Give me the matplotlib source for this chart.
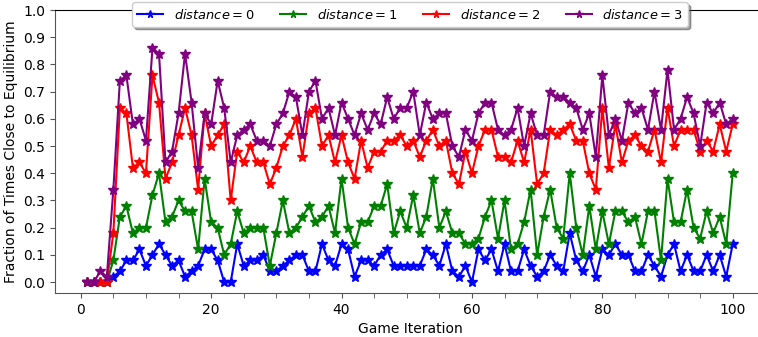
import matplotlib
matplotlib.use("Agg")
import matplotlib.pyplot as plt
from matplotlib.ticker import MultipleLocator

iterations = list(range(1, 101))

dist0 = [0.00, 0.00, 0.00, 0.00, 0.02, 0.04, 0.08, 0.08, 0.12, 0.06,
         0.10, 0.14, 0.10, 0.06, 0.08, 0.02, 0.04, 0.06, 0.12, 0.12,
         0.08, 0.00, 0.00, 0.14, 0.06, 0.08, 0.08, 0.10, 0.04, 0.04,
         0.06, 0.08, 0.10, 0.10, 0.04, 0.04, 0.14, 0.08, 0.06, 0.14,
         0.12, 0.02, 0.08, 0.08, 0.06, 0.10, 0.12, 0.06, 0.06, 0.06,
         0.06, 0.06, 0.12, 0.10, 0.06, 0.14, 0.04, 0.02, 0.06, 0.00,
         0.12, 0.08, 0.12, 0.04, 0.14, 0.04, 0.04, 0.12, 0.06, 0.02,
         0.04, 0.10, 0.06, 0.04, 0.18, 0.08, 0.04, 0.10, 0.02, 0.12,
         0.10, 0.14, 0.10, 0.10, 0.04, 0.04, 0.10, 0.06, 0.02, 0.10,
         0.14, 0.04, 0.10, 0.04, 0.04, 0.10, 0.04, 0.10, 0.02, 0.14]

dist1 = [0.00, 0.00, 0.00, 0.00, 0.08, 0.24, 0.28, 0.18, 0.20, 0.20,
         0.32, 0.40, 0.22, 0.24, 0.30, 0.26, 0.26, 0.12, 0.38, 0.22,
         0.20, 0.10, 0.14, 0.26, 0.18, 0.20, 0.20, 0.20, 0.06, 0.18,
         0.30, 0.18, 0.20, 0.24, 0.28, 0.22, 0.24, 0.28, 0.18, 0.38,
         0.20, 0.14, 0.22, 0.22, 0.28, 0.28, 0.36, 0.18, 0.26, 0.20,
         0.32, 0.18, 0.24, 0.38, 0.20, 0.26, 0.18, 0.18, 0.14, 0.14,
         0.16, 0.24, 0.30, 0.16, 0.30, 0.12, 0.14, 0.22, 0.34, 0.10,
         0.24, 0.34, 0.20, 0.16, 0.40, 0.20, 0.10, 0.28, 0.12, 0.26,
         0.14, 0.26, 0.26, 0.22, 0.24, 0.14, 0.26, 0.26, 0.08, 0.38,
         0.22, 0.22, 0.34, 0.20, 0.16, 0.26, 0.18, 0.24, 0.14, 0.40]

dist2 = [0.00, 0.00, 0.00, 0.00, 0.18, 0.64, 0.62, 0.42, 0.44, 0.40,
         0.76, 0.66, 0.38, 0.44, 0.54, 0.64, 0.54, 0.34, 0.62, 0.50,
         0.54, 0.58, 0.30, 0.48, 0.44, 0.50, 0.44, 0.44, 0.36, 0.42,
         0.50, 0.54, 0.60, 0.46, 0.62, 0.64, 0.50, 0.54, 0.44, 0.54,
         0.44, 0.38, 0.52, 0.42, 0.48, 0.48, 0.52, 0.52, 0.54, 0.50,
         0.52, 0.46, 0.52, 0.56, 0.50, 0.52, 0.40, 0.36, 0.48, 0.40,
         0.50, 0.56, 0.56, 0.46, 0.46, 0.44, 0.52, 0.44, 0.56, 0.36,
         0.40, 0.56, 0.54, 0.56, 0.58, 0.52, 0.52, 0.40, 0.34, 0.64,
         0.42, 0.58, 0.44, 0.52, 0.54, 0.50, 0.48, 0.56, 0.44, 0.64,
         0.50, 0.56, 0.56, 0.56, 0.48, 0.52, 0.48, 0.58, 0.48, 0.58]

dist3 = [0.00, 0.00, 0.04, 0.02, 0.34, 0.74, 0.76, 0.58, 0.60, 0.52,
         0.86, 0.84, 0.44, 0.48, 0.62, 0.84, 0.66, 0.42, 0.62, 0.58,
         0.74, 0.64, 0.44, 0.54, 0.56, 0.58, 0.52, 0.52, 0.50, 0.58,
         0.62, 0.70, 0.68, 0.54, 0.70, 0.74, 0.60, 0.64, 0.54, 0.66,
         0.60, 0.54, 0.62, 0.56, 0.62, 0.58, 0.68, 0.60, 0.64, 0.64,
         0.70, 0.54, 0.66, 0.60, 0.62, 0.62, 0.50, 0.46, 0.56, 0.52,
         0.62, 0.66, 0.66, 0.56, 0.54, 0.56, 0.64, 0.50, 0.62, 0.54,
         0.54, 0.70, 0.68, 0.68, 0.66, 0.64, 0.56, 0.62, 0.46, 0.76,
         0.54, 0.60, 0.52, 0.66, 0.62, 0.64, 0.56, 0.70, 0.56, 0.78,
         0.56, 0.60, 0.68, 0.62, 0.50, 0.66, 0.62, 0.66, 0.58, 0.60]

series = [dist0, dist1, dist2, dist3]
labels = [r"$distance = 0$", r"$distance = 1$", r"$distance = 2$", r"$distance = 3$"]
colors = ["blue", "green", "red", "purple"]

fig = plt.figure(figsize=(7.58, 3.37), dpi=100)
ax = fig.add_axes([55 / 758, 1 - 293 / 337, 710 / 758, 283 / 337])

for vals, lab, col in zip(series, labels, colors):
    ax.plot(iterations, vals, color=col, marker="*", markersize=7,
            linewidth=1.5, label=lab)

ax.set_xlim(-3.95, 104.95)
ax.set_ylim(-0.04, 1.0)
ax.xaxis.set_major_locator(MultipleLocator(20))
ax.xaxis.set_minor_locator(MultipleLocator(5))
ax.yaxis.set_major_locator(MultipleLocator(0.1))
ax.tick_params(axis="both", which="major", labelsize=10, length=3.5,
               color="#555555")
ax.tick_params(axis="x", which="minor", length=3.5, color="#555555")

ax.spines["right"].set_visible(False)
ax.spines["left"].set_color("#555555")
ax.spines["bottom"].set_color("#555555")
ax.spines["top"].set_color("black")
ax.spines["top"].set_linewidth(0.8)

ax.set_xlabel("Game Iteration", fontsize=10)
ax.set_ylabel("Fraction of Times Close to Equilibrium", fontsize=10)

leg = ax.legend(loc="upper center", bbox_to_anchor=(0.5, 1.027), ncol=4,
                fancybox=True, shadow=True, fontsize=9.4, framealpha=1,
                handlelength=2.0, columnspacing=2.0, borderaxespad=0.0,
                markerscale=0.8)

fig.savefig("out.png", dpi=100)
